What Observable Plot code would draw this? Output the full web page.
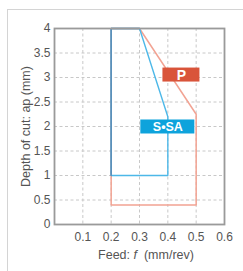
<!DOCTYPE html>
<html><head><meta charset="utf-8">
<script src="https://cdn.jsdelivr.net/npm/d3@7"></script>
<script src="https://cdn.jsdelivr.net/npm/@observablehq/plot@0.6"></script>
<style>
html,body{margin:0;padding:0;background:#fff;}
#wrap{position:relative;width:243px;height:271px;overflow:hidden;}
#card{position:absolute;left:7px;top:9px;right:-5px;bottom:-5px;border-top:1.5px solid #d4d4d4;border-left:1.5px solid #d4d4d4;}
#chart{position:absolute;left:0;top:0;}
svg{font-family:"Liberation Sans",Arial,sans-serif;}
</style></head>
<body><div id="wrap"><div id="card"></div><div id="chart"></div></div>
<script>
// Feed (mm/rev) and depth of cut (mm) polygon vertices
const pFeed  = [0.2, 0.2, 0.3, 0.5, 0.5, 0.2];
const pDepth = [0.4, 4.0, 4.0, 2.25, 0.4, 0.4];
const sFeed  = [0.2, 0.2, 0.3, 0.4, 0.4, 0.2];
const sDepth = [1.0, 4.0, 4.0, 2.2, 1.0, 1.0];
const labelNames = ["P", "S•SA"];
const labelFeed  = [0.448, 0.4];
const labelDepth = [3.05, 1.99];
const xTicks = [0.1, 0.2, 0.3, 0.4, 0.5, 0.6];
const yTicks = [0, 0.5, 1, 1.5, 2, 2.5, 3, 3.5, 4];
const xGrid = [0.1, 0.2, 0.3, 0.4, 0.5];
const yGrid = [0.5, 1, 1.5, 2, 2.5, 3, 3.5];

const pData = pFeed.map((f, i) => ({f, d: pDepth[i]}));
const sData = sFeed.map((f, i) => ({f, d: sDepth[i]}));
const labels = labelNames.map((n, i) => ({n, f: labelFeed[i], d: labelDepth[i]}));
const boxStyle = {"P": {w: 37, h: 14, fill: "#d9543a"}, "S•SA": {w: 54, h: 14, fill: "#0ea3dc"}};

function boxedText(index, scales, values, dimensions, context, next) {
  const g = next(index, scales, values, dimensions, context);
  const ns = "http://www.w3.org/2000/svg";
  const bg = document.createElementNS(ns, "g");
  for (const i of index) {
    const s = boxStyle[labels[i].n];
    const r = document.createElementNS(ns, "rect");
    r.setAttribute("x", values.x[i] - s.w / 2);
    r.setAttribute("y", values.y[i] - s.h / 2);
    r.setAttribute("width", s.w);
    r.setAttribute("height", s.h);
    r.setAttribute("fill", s.fill);
    bg.appendChild(r);
  }
  const wrap = document.createElementNS(ns, "g");
  wrap.appendChild(bg);
  wrap.appendChild(g);
  return wrap;
}

const chart = Plot.plot({
  width: 243, height: 271,
  marginLeft: 54, marginRight: 19, marginTop: 28, marginBottom: 47,
  style: {background: "transparent", fontSize: "12px", color: "#555", fontFamily: "'Liberation Sans', Arial, sans-serif"},
  x: {domain: [0, 0.6], label: null},
  y: {domain: [0, 4], label: null},
  marks: [
    Plot.ruleX(xGrid, {stroke: "#c8c8c8", strokeDasharray: "3,2.5", strokeWidth: 1}),
    Plot.ruleY(yGrid, {stroke: "#c8c8c8", strokeDasharray: "3,2.5", strokeWidth: 1}),
    Plot.line(pData, {x: "f", y: "d", stroke: "#f2a393", strokeWidth: 1.5}),
    Plot.line(sData, {x: "f", y: "d", stroke: "#4db8e8", strokeWidth: 1.4}),
    Plot.line(sData.slice(0, 3), {x: "f", y: "d", stroke: "#5a8db8", strokeWidth: 1.5}),
    Plot.text(labels, {x: "f", y: "d", text: "n", fill: "white", fontSize: d => d.n === "P" ? 14 : 12.5, fontWeight: "bold", render: boxedText}),
    Plot.frame({stroke: "#9a9a9a", strokeWidth: 1.8}),
    Plot.axisX({ticks: xTicks, tickSize: 0, tickPadding: 8, tickFormat: d => String(d), label: null, fontSize: 12}),
    Plot.axisY({ticks: yTicks, tickSize: 0, tickPadding: 4, tickFormat: d => String(d), label: null, fontSize: 12}),
    Plot.text(["Depth of cut: ap (mm)"], {frameAnchor: "left", textAnchor: "middle", dx: -29, rotate: -90, fontSize: 12.5, fill: "#555"})
  ]
});
document.getElementById("chart").appendChild(chart);
// x-axis title with italic f
const svg = d3.select(chart);
const t = svg.append("text").attr("x", 146).attr("y", 259)
  .attr("text-anchor", "middle").attr("fill", "#555").attr("font-size", 12.5)
  .attr("xml:space", "preserve");
t.append("tspan").text("Feed: ");
t.append("tspan").attr("font-style", "italic").text("f");
t.append("tspan").text("  (mm/rev)");
</script></body></html>
